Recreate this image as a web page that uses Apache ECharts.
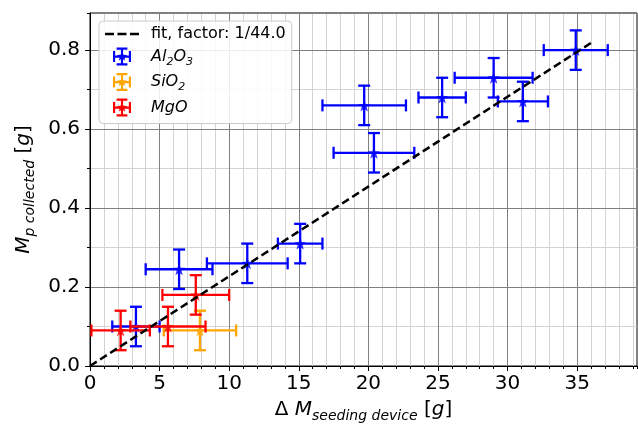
<!DOCTYPE html>
<html><head><meta charset="utf-8">
<script src="https://cdn.jsdelivr.net/npm/echarts@6/dist/echarts.min.js"></script>
<style>html,body{margin:0;padding:0;background:#fff}#c{width:638px;height:430px}</style>
</head><body><div id="c"></div>
<script>
// ---- data ----
const al2o3X    = [34.9, 29.0, 31.1, 25.3, 19.7, 20.4, 15.1, 11.3, 6.4, 3.3];
const al2o3Y    = [0.80, 0.73, 0.67, 0.68, 0.66, 0.54, 0.31, 0.26, 0.245, 0.10];
const al2o3XErr = [2.3, 2.8, 1.8, 1.7, 3.0, 2.9, 1.6, 2.9, 2.4, 1.7];
const al2o3YErr = [0.05, 0.05, 0.05, 0.05, 0.05, 0.05, 0.05, 0.05, 0.05, 0.05];

const sio2X    = [7.9];
const sio2Y    = [0.09];
const sio2XErr = [2.6];
const sio2YErr = [0.05];

const mgoX    = [2.2, 5.6, 7.6];
const mgoY    = [0.09, 0.10, 0.18];
const mgoXErr = [2.1, 2.7, 2.4];
const mgoYErr = [0.05, 0.05, 0.05];

const fitFactor = 44.0;
const fitX = [0, 36];

const xTickLabels = ['0','5','10','15','20','25','30','35'];
const yTickLabels = ['0.0','0.2','0.4','0.6','0.8'];

// ---- chart ----
const FONT = 'DejaVu Sans';
const STAR = 'path://M0,-10 L2.35,-3.24 L9.51,-3.09 L3.8,1.24 L5.88,8.09 L0,4 L-5.88,8.09 L-3.8,1.24 L-9.51,-3.09 L-2.35,-3.24 Z';
const ERRICON = 'path://M0,9h20v2.4h-20z M8.8,0h2.4v20h-2.4z M0,4h2.4v12h-2.4z M17.6,4h2.4v12h-2.4z M4,0h12v2.4h-12z M4,17.6h12v2.4h-12z M10,4.5 L11.6,8.1 L15.5,8.2 L12.5,10.6 L13.5,14.4 L10,12.2 L6.5,14.4 L7.5,10.6 L4.5,8.2 L8.4,8.1 Z';
const DASHICON = 'path://M0,0h9v2.4h-9z M12.5,0h9v2.4h-9z M25,0h9v2.4h-9z';

function rows(xs, ys, xe, ye) { return xs.map((x, i) => [x, ys[i], xe[i], ye[i]]); }

function errRender(color) {
  return function (params, api) {
    const x = api.value(0), y = api.value(1), xe = api.value(2), ye = api.value(3);
    const l = api.coord([x - xe, y]), r = api.coord([x + xe, y]);
    const t = api.coord([x, y + ye]), b = api.coord([x, y - ye]);
    const cap = 6;
    const st = { stroke: color, lineWidth: 2.3 };
    const ln = (x1, y1, x2, y2) => ({ type: 'line', shape: { x1, y1, x2, y2 }, style: st });
    return {
      type: 'group',
      children: [
        ln(l[0], l[1], r[0], r[1]),
        ln(t[0], t[1], b[0], b[1]),
        ln(l[0], l[1] - cap, l[0], l[1] + cap),
        ln(r[0], r[1] - cap, r[0], r[1] + cap),
        ln(t[0] - cap, t[1], t[0] + cap, t[1]),
        ln(b[0] - cap, b[1], b[0] + cap, b[1])
      ]
    };
  };
}

function errSeries(name, color, data, z) {
  return [
    { name, type: 'custom', renderItem: errRender(color), data, encode: { x: 0, y: 1 }, clip: true, z },
    { name, type: 'scatter', data: data.map(d => [d[0], d[1]]), symbol: STAR, symbolSize: 12,
      itemStyle: { color }, z: z + 0.1, emphasis: { disabled: true } }
  ];
}

const XMAX = 39.3, YMAX = 0.894;
const main = { fontSize: 20, fontFamily: FONT, color: '#000', lineHeight: 26, verticalAlign: 'middle' };
const ital = Object.assign({}, main, { fontStyle: 'italic' });
const sub = { fontSize: 14, fontFamily: FONT, color: '#000', fontStyle: 'italic', lineHeight: 16, verticalAlign: 'bottom' };

const chart = echarts.init(document.getElementById('c'), null, { renderer: 'canvas' });
chart.setOption({
  animation: false,
  backgroundColor: '#fff',
  grid: { left: 90, right: 1, top: 13, bottom: 64, show: true, borderColor: '#000', borderWidth: 1, backgroundColor: 'transparent' },
  xAxis: [
    { type: 'value', min: 0, max: XMAX, interval: 5, position: 'bottom', z: 1,
      axisLine: { show: true, onZero: false, lineStyle: { color: '#000', width: 1 } },
      axisTick: { show: true, length: 5, lineStyle: { color: '#000' } },
      axisLabel: { show: true, margin: 8, fontSize: 20, fontFamily: FONT, color: '#000', showMaxLabel: false,
        formatter: v => xTickLabels[Math.round(v / 5)] || '' },
      splitLine: { show: true, lineStyle: { color: '#808080', width: 1 } },
      name: '{n|Δ }{i|M}{s|seeding device}{n| [}{i|g}{n|]}',
      nameLocation: 'middle', nameGap: 31,
      nameTextStyle: { rich: { n: main, i: ital, s: sub } }
    },
    { type: 'value', min: 0, max: XMAX, interval: 1, position: 'bottom', z: 0,
      axisLine: { show: false, onZero: false },
      axisTick: { show: true, length: 3, lineStyle: { color: '#000' } },
      axisLabel: { show: false },
      splitLine: { show: true, lineStyle: { color: '#d3d3d3', width: 1 } }
    }
  ],
  yAxis: [
    { type: 'value', min: 0, max: YMAX, interval: 0.2, position: 'left', z: 1,
      axisLine: { show: true, onZero: false, lineStyle: { color: '#000', width: 1 } },
      axisTick: { show: true, length: 5, lineStyle: { color: '#000' } },
      axisLabel: { show: true, margin: 10, fontSize: 20, fontFamily: FONT, color: '#000', showMaxLabel: false,
        formatter: v => yTickLabels[Math.round(v / 0.2)] || '' },
      splitLine: { show: true, lineStyle: { color: '#808080', width: 1 } },
      name: '{i|M}{s|p collected}{n| [}{i|g}{n|]}',
      nameLocation: 'middle', nameGap: 52, nameRotate: 90,
      nameTextStyle: { rich: { n: main, i: ital, s: sub } }
    },
    { type: 'value', min: 0, max: YMAX, interval: 0.1, position: 'left', z: 0,
      axisLine: { show: false, onZero: false },
      axisTick: { show: true, length: 3, lineStyle: { color: '#000' } },
      axisLabel: { show: false },
      splitLine: { show: true, lineStyle: { color: '#d3d3d3', width: 1 } }
    }
  ],
  legend: {
    orient: 'vertical', left: 99, top: 21,
    padding: [5, 6, 7, 6],
    itemWidth: 34, itemHeight: 18, itemGap: 5.5,
    backgroundColor: 'rgba(255,255,255,0.85)', borderColor: '#cccccc', borderWidth: 1, borderRadius: 4,
    selectedMode: false,
    data: [
      { name: 'fit', icon: DASHICON, itemStyle: { color: '#000' } },
      { name: 'Al2O3', icon: ERRICON, itemStyle: { color: '#0000ff' } },
      { name: 'SiO2', icon: ERRICON, itemStyle: { color: '#ffa500' } },
      { name: 'MgO', icon: ERRICON, itemStyle: { color: '#ff0000' } }
    ],
    formatter: function (n) {
      if (n === 'fit') return '{t|fit, factor: 1/' + fitFactor.toFixed(1) + '}';
      if (n === 'Al2O3') return '{i|Al}{s|2}{i|O}{s|3}';
      if (n === 'SiO2') return '{i|SiO}{s|2}';
      return '{i|MgO}';
    },
    textStyle: {
      padding: [0, 0, 0, 7],
      rich: {
        t: { fontSize: 16, fontFamily: FONT, color: '#000', lineHeight: 22, verticalAlign: 'middle' },
        i: { fontSize: 16, fontFamily: FONT, color: '#000', fontStyle: 'italic', lineHeight: 22, verticalAlign: 'middle' },
        s: { fontSize: 11, fontFamily: FONT, color: '#000', fontStyle: 'italic', lineHeight: 13, verticalAlign: 'bottom' }
      }
    }
  },
  series: [].concat(
    errSeries('Al2O3', '#0000ff', rows(al2o3X, al2o3Y, al2o3XErr, al2o3YErr), 3),
    errSeries('SiO2', '#ffa500', rows(sio2X, sio2Y, sio2XErr, sio2YErr), 4),
    errSeries('MgO', '#ff0000', rows(mgoX, mgoY, mgoXErr, mgoYErr), 5),
    [{
      name: 'fit', type: 'line', data: fitX.map(x => [x, x / fitFactor]), showSymbol: false, symbol: 'none',
      lineStyle: { color: '#000', width: 2.5, type: [8, 4] }, itemStyle: { color: '#000' }, z: 6,
      emphasis: { disabled: true }
    }]
  )
});
</script>
</body></html>
